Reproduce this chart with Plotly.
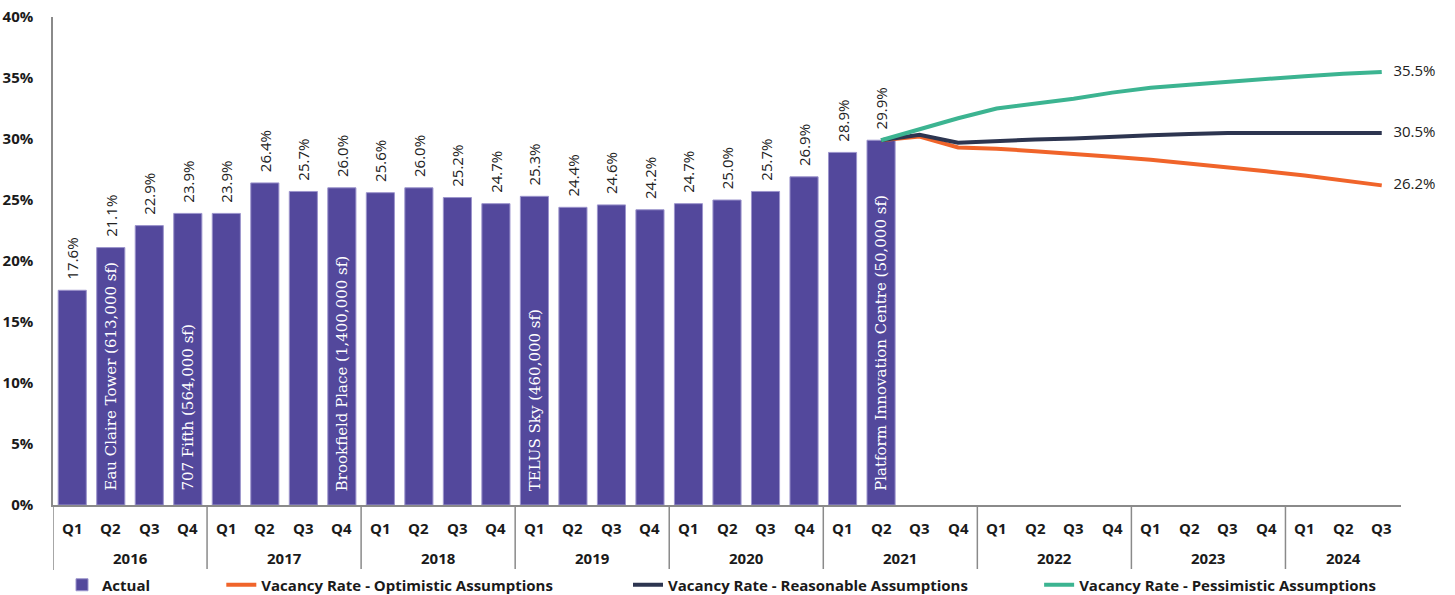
import plotly.graph_objects as go

# Quarterly axis: Q1 2016 through Q3 2024
years = ["2016"] * 4 + ["2017"] * 4 + ["2018"] * 4 + ["2019"] * 4 + ["2020"] * 4 + \
        ["2021"] * 4 + ["2022"] * 4 + ["2023"] * 4 + ["2024"] * 3
quarters = (["Q1", "Q2", "Q3", "Q4"] * 9)[:35]

# Actual downtown vacancy (Q1 2016 - Q2 2021)
actual = [17.6, 21.1, 22.9, 23.9, 23.9, 26.4, 25.7, 26.0, 25.6, 26.0, 25.2, 24.7,
          25.3, 24.4, 24.6, 24.2, 24.7, 25.0, 25.7, 26.9, 28.9, 29.9]

# New supply delivered, labelled on the bar of its quarter
supply_idx = [1, 3, 7, 12, 21]
supply_txt = ["Eau Claire Tower (613,000 sf)", "707 Fifth (564,000 sf)",
              "Brookfield Place (1,400,000 sf)", "TELUS Sky (460,000 sf)",
              "Platform Innovation Centre (50,000 sf)"]

# Forecast scenarios (Q2 2021 - Q3 2024)
optimistic = [29.9, 30.2, 29.3, 29.2, 29.0, 28.8, 28.55, 28.3, 28.0, 27.7, 27.35, 27.0, 26.6, 26.2]
reasonable = [29.9, 30.35, 29.7, 29.85, 29.95, 30.05, 30.2, 30.3, 30.4, 30.5, 30.5, 30.5, 30.5, 30.5]
pessimistic = [29.9, 30.8, 31.7, 32.5, 32.9, 33.3, 33.8, 34.2, 34.45, 34.7, 34.95, 35.15, 35.35, 35.5]

BAR = "#53489C"
ORANGE = "#F0642A"
NAVY = "#2D3550"
GREEN = "#3CB491"
AXIS = "#8a8a8a"
INK = "#1a1a1a"
FONT = "Open Sans"
NB = "\u00a0"

cats = [f"{q} {y}" for y, q in zip(years, quarters)]
n_act = len(actual)
fc_start = n_act - 1

fig = go.Figure()

fig.add_trace(go.Bar(
    x=cats[:n_act], y=actual, name="Actual" + NB * 17,
    marker=dict(color=BAR, line=dict(color="#9C94CC", width=1)),
    text=[NB * 2 + f"{v:.1f}%" for v in actual], textposition="outside", textangle=-90,
    textfont=dict(family=FONT, size=15, color="#222222"),
    constraintext="none", cliponaxis=False, hoverinfo="skip",
))

for name, vals, col in [("Vacancy Rate - Optimistic Assumptions" + NB * 18, optimistic, ORANGE),
                        ("Vacancy Rate - Reasonable Assumptions" + NB * 17, reasonable, NAVY),
                        ("Vacancy Rate - Pessimistic Assumptions", pessimistic, GREEN)]:
    fig.add_trace(go.Scatter(
        x=cats[fc_start:], y=vals, name=name,
        mode="lines+text", line=dict(color=col, width=4),
        text=[""] * (len(vals) - 1) + [NB * 3 + f"{vals[-1]:.1f}%"],
        textposition="middle right",
        textfont=dict(family=FONT, size=15, color="#222222"),
        cliponaxis=False, hoverinfo="skip",
    ))

# Supply labels written up the bars
for i, t in zip(supply_idx, supply_txt):
    fig.add_annotation(
        x=i, y=1.0, xref="x", yref="y", text=t, textangle=-90,
        showarrow=False, xanchor="center", yanchor="bottom",
        font=dict(family="DejaVu Serif", size=15, color="white"),
    )

# Two-level category labels: quarter row and year row
for i, q in enumerate(quarters):
    fig.add_annotation(x=i, y=0, xref="x", yref="paper", text=q, showarrow=False,
                       yanchor="top", yshift=-11,
                       font=dict(family=FONT, size=15, color=INK, weight="bold"))

groups = []
for i, y in enumerate(years):
    if not groups or groups[-1][0] != y:
        groups.append([y, i, i])
    else:
        groups[-1][2] = i

plot_h = 595 - 17 - 90
for y, a, b in groups:
    fig.add_annotation(x=(a + b) / 2, y=0, xref="x", yref="paper", text=y,
                       showarrow=False, yanchor="top", yshift=-41,
                       font=dict(family=FONT, size=15, color=INK, weight="bold"))
    # divider at the left edge of each year group
    fig.add_shape(type="line", xref="x", yref="paper", x0=a - 0.5, x1=a - 0.5,
                  y0=0, y1=-65 / plot_h, line=dict(color=AXIS, width=1.5))

fig.update_layout(
    width=1455, height=595,
    margin=dict(l=53, r=54, t=17, b=90, autoexpand=False),
    paper_bgcolor="white", plot_bgcolor="white",
    bargap=0.27,
    showlegend=True,
    legend=dict(orientation="h", xref="container", yref="container",
                x=62 / 1455, y=10 / 595, xanchor="left", yanchor="middle",
                font=dict(family=FONT, size=15, color=INK, weight="bold"),
                itemwidth=30, tracegroupgap=0),
    xaxis=dict(type="category", range=[-0.5, len(cats) - 0.5], showline=True,
               linecolor=AXIS, linewidth=1.5, showgrid=False, ticks="",
               showticklabels=False, fixedrange=True, automargin=False),
    yaxis=dict(range=[0, 40], dtick=5, ticksuffix="%", showgrid=False, zeroline=False,
               showline=True, linecolor=AXIS, linewidth=1.5, ticks="",
               ticklabelstandoff=15, automargin=False,
               tickfont=dict(family=FONT, size=15, color=INK, weight="bold")),
)

fig.write_html("out.html")
